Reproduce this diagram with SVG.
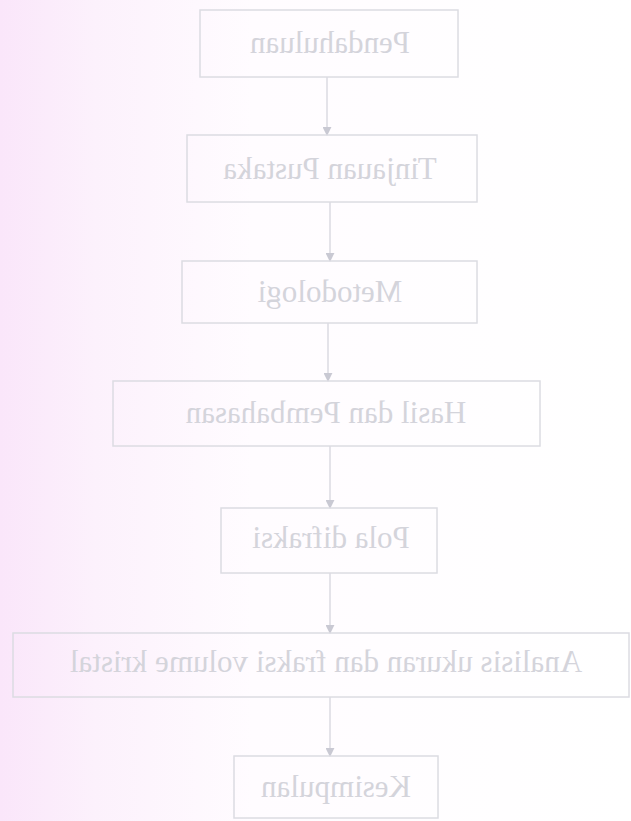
<svg xmlns="http://www.w3.org/2000/svg" width="631" height="821" viewBox="0 0 631 821">
  <defs>
    <linearGradient id="bg" x1="0" y1="0" x2="1" y2="0">
      <stop offset="0" stop-color="#fae6fa"/>
      <stop offset="0.15" stop-color="#fcf1fc"/>
      <stop offset="0.4" stop-color="#fffcff"/>
      <stop offset="1" stop-color="#ffffff"/>
    </linearGradient>
    <marker id="arrow" viewBox="0 0 10 10" refX="9" refY="5" markerWidth="9" markerHeight="9" markerUnits="userSpaceOnUse" orient="auto">
      <path d="M0,0 L10,5 L0,10 z" fill="#c9c9d3"/>
    </marker>
    <style>
      .box { fill: none; stroke: #dcdce2; stroke-width: 1.5; }
      .lbl { font-family: "Liberation Serif", "Times New Roman", serif; font-size: 31px; fill: #d4d4db; text-anchor: middle; }
      .conn { stroke: #d2d2da; stroke-width: 1.2; fill: none; marker-end: url(#arrow); }
    </style>
  </defs>
  <rect x="0" y="0" width="631" height="821" fill="url(#bg)"/>

  <g id="connectors">
    <line class="conn" x1="327" y1="77" x2="327" y2="135"/>
    <line class="conn" x1="330" y1="202" x2="330" y2="261"/>
    <line class="conn" x1="328" y1="323" x2="328" y2="381"/>
    <line class="conn" x1="330" y1="446" x2="330" y2="508"/>
    <line class="conn" x1="330" y1="573" x2="330" y2="633"/>
    <line class="conn" x1="330" y1="697" x2="330" y2="756"/>
  </g>

  <g id="pendahuluan">
    <rect class="box" x="200" y="10" width="258" height="67"/>
    <text class="lbl" transform="translate(330,53) scale(-1,1)" x="0" y="0">Pendahuluan</text>
  </g>
  <g id="tinjauan-pustaka">
    <rect class="box" x="187" y="135" width="290" height="67"/>
    <text class="lbl" transform="translate(330,179) scale(-1,1)" x="0" y="0">Tinjauan Pustaka</text>
  </g>
  <g id="metodologi">
    <rect class="box" x="182" y="261" width="295" height="62"/>
    <text class="lbl" transform="translate(330,302) scale(-1,1)" x="0" y="0">Metodologi</text>
  </g>
  <g id="hasil-pembahasan">
    <rect class="box" x="113" y="381" width="427" height="65"/>
    <text class="lbl" transform="translate(326,423) scale(-1,1)" x="0" y="0">Hasil dan Pembahasan</text>
  </g>
  <g id="pola-difraksi">
    <rect class="box" x="221" y="508" width="216" height="65"/>
    <text class="lbl" transform="translate(331,548) scale(-1,1)" x="0" y="0">Pola difraksi</text>
  </g>
  <g id="analisis">
    <rect class="box" x="13" y="633" width="616" height="64"/>
    <text class="lbl" transform="translate(326,672) scale(-1,1)" x="0" y="0">Analisis ukuran dan fraksi volume kristal</text>
  </g>
  <g id="kesimpulan">
    <rect class="box" x="234" y="756" width="204" height="62"/>
    <text class="lbl" transform="translate(336,797) scale(-1,1)" x="0" y="0">Kesimpulan</text>
  </g>
</svg>
